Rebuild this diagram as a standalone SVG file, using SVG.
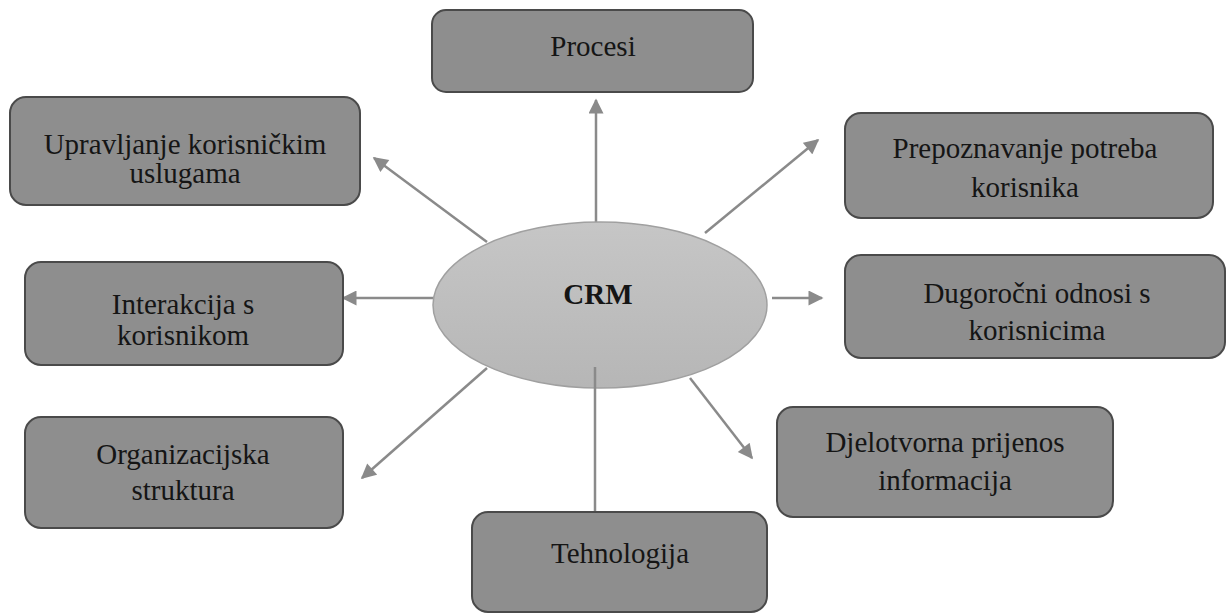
<svg xmlns="http://www.w3.org/2000/svg" width="1228" height="614" viewBox="0 0 1228 614">
<style>
.box{fill:#8e8e8e;stroke:#4a4a4a;stroke-width:2}
.t{font-family:"Liberation Serif","Tinos","DejaVu Serif",serif;font-size:29px;fill:#151515;text-anchor:middle}
.c{stroke:#8a8a8a;stroke-width:2.5;fill:none}
</style>
<defs>
<marker id="ah" viewBox="0 0 10 10" refX="9" refY="5" markerWidth="6.5" markerHeight="6" orient="auto" markerUnits="strokeWidth">
<path d="M0,0 L10,5 L0,10 z" fill="#8a8a8a"/>
</marker>
<linearGradient id="eg" x1="0" y1="0" x2="0" y2="1">
<stop offset="0" stop-color="#c6c6c6"/>
<stop offset="1" stop-color="#b6b6b6"/>
</linearGradient>
</defs>
<rect width="1228" height="614" fill="#ffffff"/>
<g id="connectors">
<line class="c" x1="596" y1="222" x2="596" y2="100" marker-end="url(#ah)"/>
<line class="c" x1="487" y1="242" x2="374" y2="158" marker-end="url(#ah)"/>
<line class="c" x1="433" y1="298" x2="343" y2="298" marker-end="url(#ah)"/>
<line class="c" x1="487" y1="368" x2="362" y2="478" marker-end="url(#ah)"/>
<line class="c" x1="705" y1="233" x2="818" y2="140" marker-end="url(#ah)"/>
<line class="c" x1="772" y1="298" x2="822" y2="298" marker-end="url(#ah)"/>
<line class="c" x1="690" y1="378" x2="752" y2="458" marker-end="url(#ah)"/>
</g>
<g id="crm">
<ellipse cx="600" cy="305" rx="167" ry="83" fill="url(#eg)" stroke="#a0a0a0" stroke-width="1.5"/>
<text class="t" x="598" y="304" font-weight="bold" font-size="30">CRM</text>
</g>
<g id="tech-line"><line class="c" x1="595" y1="367" x2="595" y2="512"/></g>
<g id="procesi">
<rect class="box" x="432" y="10" width="321" height="82" rx="14"/>
<text class="t" x="593" y="56">Procesi</text>
</g>
<g id="upravljanje">
<rect class="box" x="10" y="97" width="350" height="108" rx="16"/>
<text class="t" x="185" y="154">Upravljanje korisničkim</text>
<text class="t" x="185" y="183">uslugama</text>
</g>
<g id="interakcija">
<rect class="box" x="25" y="262" width="318" height="103" rx="16"/>
<text class="t" x="183" y="314">Interakcija s</text>
<text class="t" x="183" y="345">korisnikom</text>
</g>
<g id="organizacijska">
<rect class="box" x="25" y="417" width="318" height="111" rx="16"/>
<text class="t" x="183" y="464">Organizacijska</text>
<text class="t" x="183" y="500">struktura</text>
</g>
<g id="prepoznavanje">
<rect class="box" x="845" y="113" width="368" height="105" rx="16"/>
<text class="t" x="1025" y="158">Prepoznavanje potreba</text>
<text class="t" x="1025" y="197">korisnika</text>
</g>
<g id="dugorocni">
<rect class="box" x="845" y="255" width="380" height="103" rx="16"/>
<text class="t" x="1037" y="303">Dugoročni odnosi s</text>
<text class="t" x="1037" y="340">korisnicima</text>
</g>
<g id="djelotvorna">
<rect class="box" x="777" y="407" width="336" height="110" rx="16"/>
<text class="t" x="945" y="452">Djelotvorna prijenos</text>
<text class="t" x="945" y="490">informacija</text>
</g>
<g id="tehnologija">
<rect class="box" x="472" y="512" width="295" height="100" rx="16"/>
<text class="t" x="620" y="563">Tehnologija</text>
</g>
</svg>
